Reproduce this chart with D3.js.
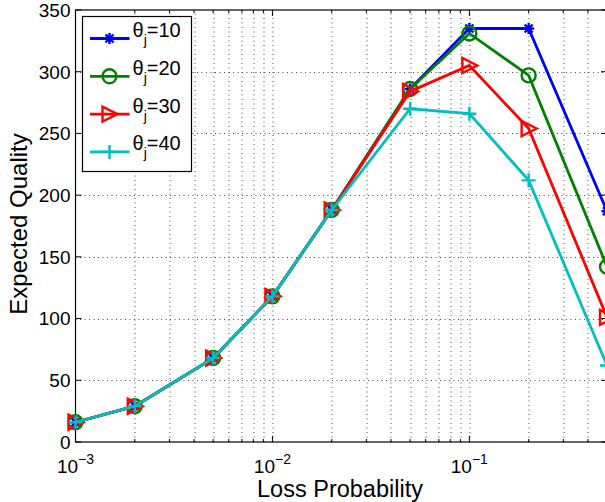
<!DOCTYPE html>
<html>
<head>
<meta charset="utf-8">
<script src="https://cdn.jsdelivr.net/npm/d3@7"></script>
<style>
  body { margin: 0; background: #fff; }
  svg { font-family: "Liberation Sans", Arial, sans-serif; }
</style>
</head>
<body>
<svg id="chart"></svg>
<script>
// values
const lossProb = [0.001, 0.002, 0.005, 0.01, 0.02, 0.05, 0.1, 0.2, 0.5];
const theta10 = [16, 29, 68, 118, 188, 286, 335, 335, 187];
const theta20 = [16, 29, 68, 118, 188, 286, 331, 297, 142];
const theta30 = [16, 29, 68, 118, 188, 284, 305, 254, 101];
const theta40 = [16, 29, 68, 118, 188, 270, 266, 212, 62];
const seriesNames = ["10", "20", "30", "40"];
const seriesColors = ["#0000ff", "#008000", "#ff0000", "#00bfbf"];
const seriesMarkers = ["star", "circle", "triRight", "plus"];
const yTicks = [0, 50, 100, 150, 200, 250, 300, 350];
const xTicks = [1e-3, 1e-2, 1e-1];
const xTickExp = ["\u22123", "\u22122", "\u22121"];

class LossChart {
    constructor(_config) {
        this.config = {
            parentElement: _config.parentElement,
            containerWidth: 605,
            containerHeight: 502,
            margin: { top: 10, right: -2, bottom: 60, left: 75.5 }
        }
        this.initVis();
    }

    initVis() {
        let vis = this;
        vis.svg = d3.select(vis.config.parentElement)
            .attr('width', vis.config.containerWidth)
            .attr('height', vis.config.containerHeight);

        vis.width = vis.config.containerWidth - vis.config.margin.left - vis.config.margin.right;
        vis.height = vis.config.containerHeight - vis.config.margin.top - vis.config.margin.bottom;

        vis.chart = vis.svg.append('g')
            .attr('transform', `translate(${vis.config.margin.left},${vis.config.margin.top})`);

        vis.xScale = d3.scaleLog().domain([0.001, 0.5]).range([0, vis.width]);
        vis.yScale = d3.scaleLinear().domain([0, 350]).range([vis.height, 0]);

        vis.series = [theta10, theta20, theta30, theta40].map((vals, i) => ({
            name: seriesNames[i],
            color: seriesColors[i],
            marker: seriesMarkers[i],
            values: vals.map((v, j) => ({ x: lossProb[j], y: v }))
        }));
        vis.renderVis();
    }

    markerPath(type) {
        const p = d3.path();
        if (type === 'star') {
            const r = 5.5, d = 4;
            p.moveTo(-r, 0); p.lineTo(r, 0);
            p.moveTo(0, -r); p.lineTo(0, r);
            p.moveTo(-d, -d); p.lineTo(d, d);
            p.moveTo(-d, d); p.lineTo(d, -d);
        } else if (type === 'circle') {
            p.moveTo(7, 0); p.arc(0, 0, 7, 0, 2 * Math.PI);
        } else if (type === 'triRight') {
            p.moveTo(8, 0); p.lineTo(-7, -7.5); p.lineTo(-7, 7.5); p.closePath();
        } else {
            const r = 7;
            p.moveTo(-r, 0); p.lineTo(r, 0);
            p.moveTo(0, -r); p.lineTo(0, r);
        }
        return p.toString();
    }

    renderVis() {
        let vis = this;
        const minor = [];
        [-3, -2, -1].forEach(e => {
            for (let k = 1; k <= 9; k++) {
                const v = k * Math.pow(10, e);
                if (v <= 0.5 + 1e-9) minor.push(v);
            }
        });

        // grid
        const grid = vis.chart.append('g').attr('class', 'grid')
            .attr('stroke', '#444').attr('stroke-width', 1)
            .attr('stroke-dasharray', '1,3.5');
        grid.selectAll('.vg').data(minor.filter(v => v > 0.001)).join('line')
            .attr('x1', d => Math.round(vis.xScale(d)) + 0.5)
            .attr('x2', d => Math.round(vis.xScale(d)) + 0.5)
            .attr('y1', vis.height).attr('y2', 0);
        grid.selectAll('.hg').data(yTicks.filter(v => v > 0 && v < 350)).join('line')
            .attr('x1', 0).attr('x2', vis.width)
            .attr('y1', d => Math.round(vis.yScale(d)) + 0.5)
            .attr('y2', d => Math.round(vis.yScale(d)) + 0.5);

        // box
        vis.chart.append('rect')
            .attr('width', vis.width).attr('height', vis.height)
            .attr('fill', 'none').attr('stroke', '#000').attr('stroke-width', 1.2);

        // ticks (inward)
        const ticks = vis.chart.append('g').attr('stroke', '#000').attr('stroke-width', 1);
        minor.forEach(v => {
            const x = vis.xScale(v);
            const len = xTicks.includes(v) ? 6 : 3;
            ticks.append('line').attr('x1', x).attr('x2', x).attr('y1', vis.height).attr('y2', vis.height - len);
            ticks.append('line').attr('x1', x).attr('x2', x).attr('y1', 0).attr('y2', len);
        });
        yTicks.forEach(v => {
            const y = vis.yScale(v);
            ticks.append('line').attr('x1', 0).attr('x2', 6).attr('y1', y).attr('y2', y);
            ticks.append('line').attr('x1', vis.width).attr('x2', vis.width - 6).attr('y1', y).attr('y2', y);
        });

        // y tick labels
        vis.chart.selectAll('.ylab').data(yTicks).join('text')
            .attr('x', -5).attr('y', d => vis.yScale(d))
            .attr('dy', '0.36em').attr('text-anchor', 'end')
            .attr('font-size', 19).text(d => d);

        // x tick labels with exponent
        xTicks.forEach((v, i) => {
            const t = vis.chart.append('text')
                .attr('x', vis.xScale(v)).attr('y', vis.height + 30.5)
                .attr('text-anchor', 'middle').attr('font-size', 19);
            t.append('tspan').text('10');
            t.append('tspan').attr('dy', -9).attr('font-size', 14).text(xTickExp[i]);
        });

        // axis titles
        vis.svg.append('text')
            .attr('x', 340).attr('y', 497)
            .attr('text-anchor', 'middle').attr('font-size', 23.5)
            .text('Loss Probability');
        vis.svg.append('text')
            .attr('transform', 'translate(27,224) rotate(-90)')
            .attr('text-anchor', 'middle').attr('font-size', 24)
            .text('Expected Quality');

        // lines + markers
        const line = d3.line().x(d => vis.xScale(d.x)).y(d => vis.yScale(d.y));
        vis.series.forEach(s => {
            const g = vis.chart.append('g');
            g.append('path').datum(s.values)
                .attr('fill', 'none').attr('stroke', s.color)
                .attr('stroke-width', 2.8).attr('d', line);
            g.selectAll('.mk').data(s.values).join('path')
                .attr('transform', d => `translate(${vis.xScale(d.x)},${vis.yScale(d.y)})`)
                .attr('d', vis.markerPath(s.marker))
                .attr('fill', 'none').attr('stroke', s.color)
                .attr('stroke-width', 2.4);
        });

        // legend
        const lg = vis.svg.append('g').attr('transform', 'translate(82.5,16.5)');
        lg.append('rect').attr('width', 109).attr('height', 155)
            .attr('fill', '#fff').attr('stroke', '#000').attr('stroke-width', 1.2);
        vis.series.forEach((s, i) => {
            const y = 22 + i * 37.8;
            lg.append('line').attr('x1', 7.5).attr('x2', 47)
                .attr('y1', y).attr('y2', y)
                .attr('stroke', s.color).attr('stroke-width', 2.8);
            lg.append('path').attr('transform', `translate(27,${y})`)
                .attr('d', vis.markerPath(s.marker))
                .attr('fill', 'none').attr('stroke', s.color).attr('stroke-width', 2.4);
            const t = lg.append('text').attr('x', 50).attr('y', y - 1.5).attr('font-size', 20);
            t.append('tspan').text('\u03b8');
            t.append('tspan').attr('dy', 8).attr('font-size', 14).text('j');
            t.append('tspan').attr('dy', -8).text('=' + s.name);
        });
    }
}

new LossChart({ parentElement: '#chart' });
</script>
</body>
</html>
